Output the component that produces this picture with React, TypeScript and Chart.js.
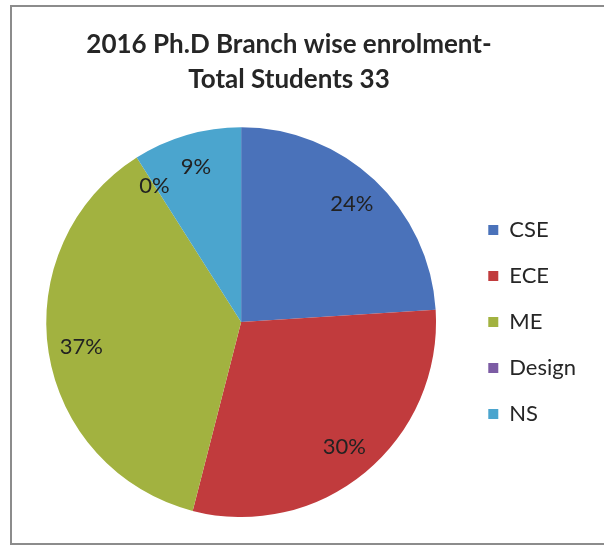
import React, { useEffect, useRef } from "react";
import { Chart, registerables } from "chart.js";

Chart.register(...registerables);

const branches = ["CSE", "ECE", "ME", "Design", "NS"];
const percentages = [24, 30, 37, 0, 9];
const sliceColors = ["#4A72BA", "#C13B3D", "#A2B240", "#7C5CA4", "#4BA5CE"];
const titleLines = ["2016 Ph.D Branch wise enrolment-", "Total Students 33"];

const FONT = "Lato, 'Noto Sans', sans-serif";

const sliceLabels = {
  id: "sliceLabels",
  afterDatasetsDraw(chart: any) {
    const ctx = chart.ctx;
    const meta = chart.getDatasetMeta(0);
    const values = chart.data.datasets[0].data;
    ctx.save();
    ctx.font = `22px ${FONT}`;
    ctx.fillStyle = "#222222";
    ctx.textAlign = "center";
    ctx.textBaseline = "middle";
    meta.data.forEach((arc: any, i: number) => {
      const p = arc.getProps(["x", "y", "startAngle", "endAngle", "outerRadius"], true);
      const mid = (p.startAngle + p.endAngle) / 2;
      const r = p.outerRadius * 0.83;
      ctx.fillText(`${values[i]}%`, p.x + Math.cos(mid) * r, p.y + Math.sin(mid) * r);
    });
    ctx.restore();
  },
};

// Excel centres the title over a slightly narrower band than the full canvas.
const titleBand = {
  id: "titleBand",
  afterLayout(chart: any) {
    const t = chart.titleBlock;
    if (t) {
      t.left = 18;
      t.right = 560;
      t.width = t.right - t.left;
    }
  },
};

export default function App() {
  const ref = useRef<HTMLCanvasElement>(null);
  useEffect(() => {
    document.body.style.margin = "0";
    const chart = new Chart(ref.current!, {
      type: "pie",
      data: {
        labels: branches,
        datasets: [
          {
            data: percentages,
            backgroundColor: sliceColors,
            borderWidth: 0,
          },
        ],
      },
      options: {
        animation: false,
        responsive: false,
        layout: { padding: { left: 18, right: 18, top: 0, bottom: 29 } },
        plugins: {
          title: {
            display: true,
            text: titleLines,
            color: "#262626",
            font: { family: FONT, size: 26, weight: "bold", lineHeight: 1.35 },
            padding: { top: 27, bottom: 30 },
          },
          legend: {
            position: "right",
            fullSize: false,
            labels: {
              boxWidth: 10,
              boxHeight: 10,
              padding: 24,
              color: "#262626",
              font: { family: FONT, size: 22 },
            },
          },
          tooltip: { enabled: false },
        },
      },
      plugins: [sliceLabels, titleBand],
    });
    return () => chart.destroy();
  }, []);
  return (
    <div style={{ position: "relative", width: 604, height: 546, background: "#fff" }}>
      <div
        style={{
          position: "absolute",
          left: 10,
          top: 5,
          width: 600,
          height: 536,
          borderLeft: "2px solid #8c8c8c",
          borderTop: "2px solid #8c8c8c",
          borderBottom: "2px solid #8c8c8c",
        }}
      />
      <canvas ref={ref} width={604} height={546} style={{ position: "absolute", left: 0, top: 0 }} />
    </div>
  );
}
